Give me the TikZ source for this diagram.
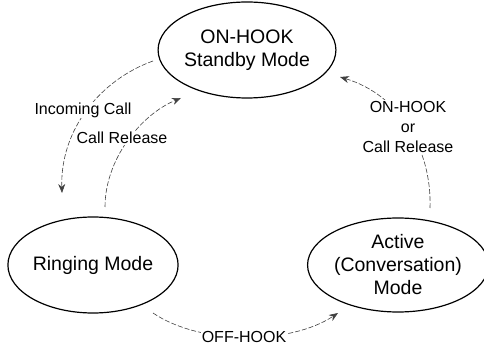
\documentclass[tikz,border=0pt]{standalone}
\usepackage{fontspec}
\setmainfont{Liberation Sans}
\usetikzlibrary{shapes.geometric,arrows.meta}
\begin{document}
\begin{tikzpicture}[x=1pt,y=-1pt,
  state/.style={ellipse,draw,line width=1.2pt,inner sep=0pt,align=center,
    font=\fontsize{19.5}{23}\selectfont},
  trans/.style={draw=black!75,line width=0.6pt,dash pattern=on 5pt off 2pt,
    -{Stealth[length=9pt,width=7pt]}},
  lbl/.style={fill=white,inner sep=1pt,align=center,
    font=\fontsize{16}{20}\selectfont}]
\useasboundingbox (0,0) rectangle (484,347);
\node[state,minimum width=164pt,minimum height=96pt] (on) at (247,50) {ON-HOOK\\Standby Mode};
\node[state,minimum width=164pt,minimum height=96pt] (ring) at (93,265) {Ringing Mode};
\node[state,minimum width=166pt,minimum height=94pt] (act) at (398,265) {Active\\(Conversation)\\Mode};
\coordinate (a1) at (153,61);  \coordinate (a2) at (62,193);
\coordinate (b1) at (105,207); \coordinate (b2) at (181,98);
\coordinate (c1) at (430,208); \coordinate (c2) at (340,77);
\coordinate (d1) at (153,313); \coordinate (d2) at (338,313);
\draw[trans] (a1) .. controls (100,80) and (60,130) .. (a2);
\draw[trans] (b1) .. controls (105,160) and (140,115) .. (b2);
\draw[trans] (c1) .. controls (432,150) and (400,95) .. (c2);
\draw[trans] (d1) .. controls (200,345) and (290,345) .. (d2);
\node[lbl] (la) at (83,110) {Incoming Call};
\node[lbl] (lb) at (122,138) {Call Release};
\node[lbl] (lc) at (408,127) {ON-HOOK\\or\\Call Release};
\node[lbl] (ld) at (244,337) {OFF-HOOK};
\end{tikzpicture}
\end{document}
